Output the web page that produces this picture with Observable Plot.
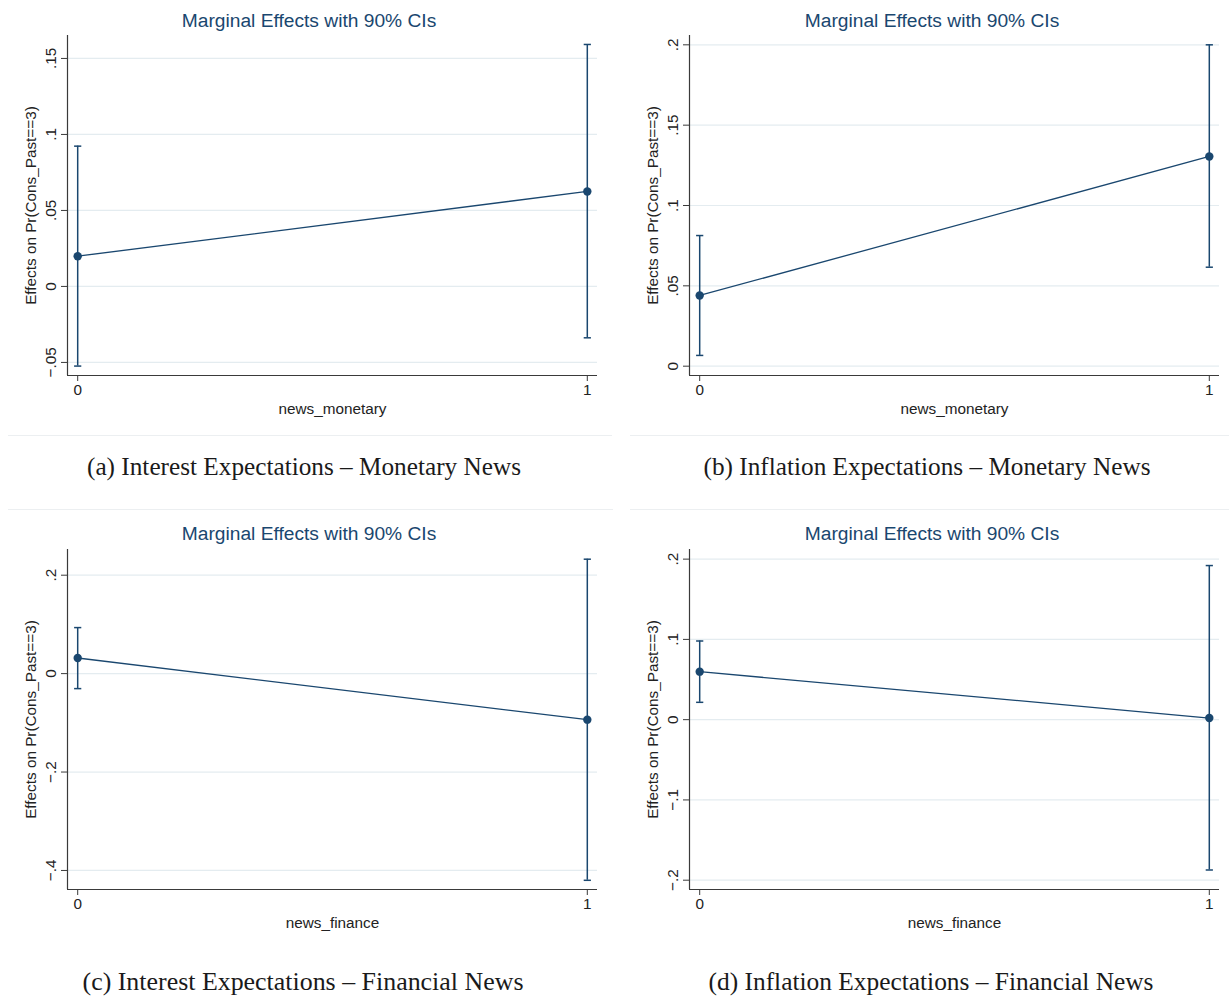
<!DOCTYPE html>
<html>
<head>
<meta charset="utf-8">
<script src="https://cdn.jsdelivr.net/npm/d3@7"></script>
<script src="https://cdn.jsdelivr.net/npm/@observablehq/plot@0.6"></script>
<style>
  body { margin: 0; background: #fff; }
  #root { position: relative; width: 1229px; height: 999px; overflow: hidden; font-family: "Liberation Sans", Arial, sans-serif; background: #fff; }
  .panel { position: absolute; }
  .panel svg { overflow: visible; }
  .title { position: absolute; color: #1a476f; font-size: 19.2px; transform: translate(-50%, -50%); white-space: nowrap; line-height: 1; }
  .caption { position: absolute; font-family: "Liberation Serif", "DejaVu Serif", serif; color: #1a1a1a; transform: translate(-50%, -50%); white-space: nowrap; line-height: 1; }
  .rule { position: absolute; height: 0; border-top: 1.5px solid #eceff1; }
</style>
</head>
<body>
<div id="root"></div>
<script>
// ---- Data ----
const xValues = [0, 1];
const xTickLabels = ["0", "1"];
const yLabel = "Effects on Pr(Cons_Past==3)";
const chartTitle = "Marginal Effects with 90% CIs";

// (a) Interest Expectations – Monetary News
const estA = [0.0199, 0.0625];
const loA  = [-0.0524, -0.0338];
const hiA  = [0.0923, 0.1592];
const yTicksA = [-0.05, 0, 0.05, 0.1, 0.15];
const yTickLabelsA = ["\u2212.05", "0", ".05", ".1", ".15"];

// (b) Inflation Expectations – Monetary News
const estB = [0.0440, 0.1305];
const loB  = [0.0067, 0.0616];
const hiB  = [0.0813, 0.2000];
const yTicksB = [0, 0.05, 0.1, 0.15, 0.2];
const yTickLabelsB = ["0", ".05", ".1", ".15", ".2"];

// (c) Interest Expectations – Financial News
const estC = [0.0317, -0.0936];
const loC  = [-0.0305, -0.4200];
const hiC  = [0.0935, 0.2325];
const yTicksC = [-0.4, -0.2, 0, 0.2];
const yTickLabelsC = ["\u2212.4", "\u2212.2", "0", ".2"];

// (d) Inflation Expectations – Financial News
const estD = [0.0598, 0.0020];
const loD  = [0.0216, -0.1873];
const hiD  = [0.0980, 0.1920];
const yTicksD = [-0.2, -0.1, 0, 0.1, 0.2];
const yTickLabelsD = ["\u2212.2", "\u2212.1", "0", ".1", ".2"];

const xAxisLabels = ["news_monetary", "news_monetary", "news_finance", "news_finance"];
const captions = [
  "(a) Interest Expectations \u2013 Monetary News",
  "(b) Inflation Expectations \u2013 Monetary News",
  "(c) Interest Expectations \u2013 Financial News",
  "(d) Inflation Expectations \u2013 Financial News"
];

// ---- Layout / style ----
const navy = "#1a476f";
const axisColor = "#3a3a3a";
const gridColor = "#e4ecf0";

const panels = [
  {est: estA, lo: loA, hi: hiA, ticks: yTicksA, labels: yTickLabelsA, yDomain: [-0.0586, 0.1651], xLabel: xAxisLabels[0],
   left: 0, top: 30, width: 612, ml: 67, mr: 15, titleX: 309, titleY: 21, capX: 304, capY: 467, capW: 434},
  {est: estB, lo: loB, hi: hiB, ticks: yTicksB, labels: yTickLabelsB, yDomain: [-0.0058, 0.2058], xLabel: xAxisLabels[1],
   left: 620, top: 30, width: 609, ml: 69, mr: 10, titleX: 932, titleY: 21, capX: 927, capY: 467, capW: 447},
  {est: estC, lo: loC, hi: hiC, ticks: yTicksC, labels: yTickLabelsC, yDomain: [-0.4387, 0.2522], xLabel: xAxisLabels[2],
   left: 0, top: 544, width: 612, ml: 67, mr: 15, titleX: 309, titleY: 534, capX: 303, capY: 982, capW: 441},
  {est: estD, lo: loD, hi: hiD, ticks: yTicksD, labels: yTickLabelsD, yDomain: [-0.2116, 0.2120], xLabel: xAxisLabels[3],
   left: 620, top: 544, width: 609, ml: 69, mr: 10, titleX: 932, titleY: 534, capX: 931, capY: 982, capW: 445}
];

const capSymbol = {
  draw(ctx, size) {
    const w = Math.sqrt(size / Math.PI);
    ctx.moveTo(-w, 0);
    ctx.lineTo(w, 0);
  }
};

const root = document.getElementById("root");
const xDomain = [-0.02, 1.02];
const axisFont = '"Liberation Sans", Arial, sans-serif';
const axisFontSize = 15.3;

function makePanel(p) {
  const data = xValues.map((x, i) => ({x, est: p.est[i], lo: p.lo[i], hi: p.hi[i]}));
  const labelMap = new Map(p.ticks.map((t, i) => [t, p.labels[i]]));
  const xLabelMap = new Map(xValues.map((t, i) => [t, xTickLabels[i]]));
  return Plot.plot({
    width: p.width,
    height: 395,
    marginLeft: p.ml,
    marginRight: p.mr,
    marginTop: 5,
    marginBottom: 50,
    style: {fontFamily: axisFont, fontSize: axisFontSize + "px", color: "#222", background: "transparent", overflow: "visible"},
    x: {domain: xDomain},
    y: {domain: p.yDomain},
    marks: [
      Plot.gridY(p.ticks, {stroke: gridColor, strokeOpacity: 1, strokeWidth: 1.2}),
      Plot.ruleX(data, {x: "x", y1: "lo", y2: "hi", stroke: navy, strokeWidth: 1.5}),
      Plot.dot(data, {x: "x", y: "lo", symbol: capSymbol, r: 3.6, stroke: navy, strokeWidth: 1.5}),
      Plot.dot(data, {x: "x", y: "hi", symbol: capSymbol, r: 3.6, stroke: navy, strokeWidth: 1.5}),
      Plot.line(data, {x: "x", y: "est", stroke: navy, strokeWidth: 1.3}),
      Plot.dot(data, {x: "x", y: "est", r: 4.2, fill: navy, stroke: "none"}),
      Plot.ruleX([xDomain[0]], {stroke: axisColor, strokeWidth: 1.2}),
      Plot.ruleY([p.yDomain[0]], {stroke: axisColor, strokeWidth: 1.2}),
      Plot.axisY({
        ticks: p.ticks, tickFormat: d => labelMap.get(d), tickRotate: -90, tickSize: 6, tickPadding: 5.5,
        fontSize: axisFontSize, fontFamily: axisFont, fill: "#222",
        stroke: axisColor, label: yLabel, labelAnchor: "center", labelArrow: "none", labelOffset: 42
      }),
      Plot.axisX({
        ticks: xValues, tickFormat: d => xLabelMap.get(d), tickSize: 6, tickPadding: 2.5,
        fontSize: axisFontSize, fontFamily: axisFont, fill: "#222",
        stroke: axisColor, label: p.xLabel, labelAnchor: "center", labelArrow: "none", labelOffset: 38
      })
    ]
  });
}

const canvas = document.createElement("canvas");
const cctx = canvas.getContext("2d");
function fitSize(text, family, target) {
  cctx.font = `20px ${family}`;
  const w = cctx.measureText(text).width;
  return 20 * target / w;
}

panels.forEach((p, i) => {
  const div = document.createElement("div");
  div.className = "panel";
  div.style.left = p.left + "px";
  div.style.top = p.top + "px";
  div.appendChild(makePanel(p));
  root.appendChild(div);

  const t = document.createElement("div");
  t.className = "title";
  t.textContent = chartTitle;
  t.style.left = p.titleX + "px";
  t.style.top = p.titleY + "px";
  root.appendChild(t);

  const c = document.createElement("div");
  c.className = "caption";
  c.textContent = captions[i];
  c.style.left = p.capX + "px";
  c.style.top = p.capY + "px";
  c.style.fontSize = fitSize(captions[i], '"Liberation Serif"', p.capW).toFixed(2) + "px";
  root.appendChild(c);
});

// faint graph-region borders between rows
[[8, 435, 604], [630, 435, 599], [8, 509, 605], [630, 509, 599]].forEach(([x, y, w]) => {
  const r = document.createElement("div");
  r.className = "rule";
  r.style.left = x + "px";
  r.style.top = y + "px";
  r.style.width = w + "px";
  root.appendChild(r);
});
</script>
</body>
</html>
